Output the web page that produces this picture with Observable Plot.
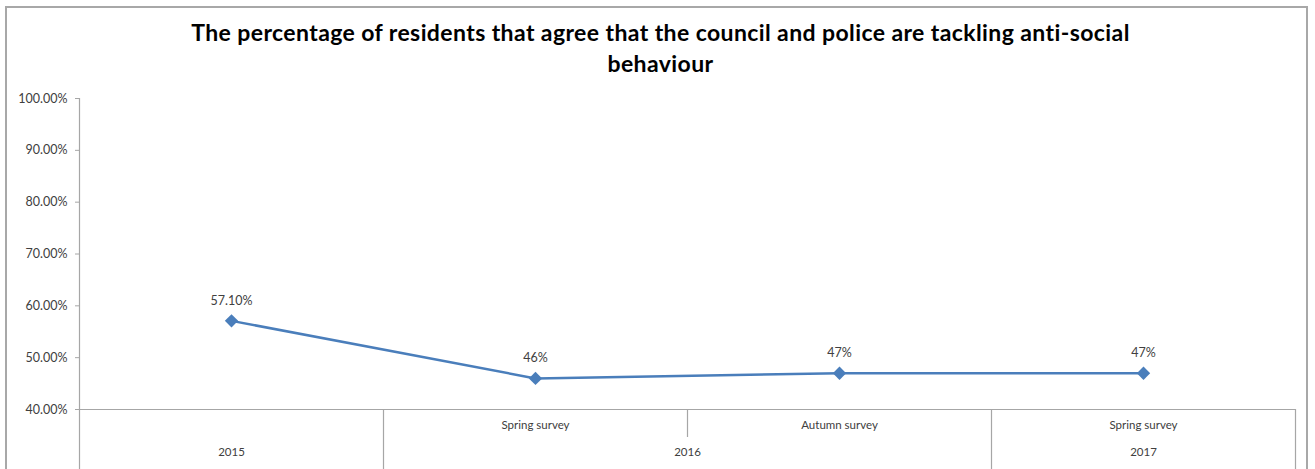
<!DOCTYPE html>
<html>
<head>
<meta charset="utf-8">
<script src="https://cdn.jsdelivr.net/npm/d3@7"></script>
<script src="https://cdn.jsdelivr.net/npm/@observablehq/plot@0.6"></script>
<style>
  html, body { margin: 0; padding: 0; background: #fff; }
  #wrap { position: relative; width: 1315px; height: 469px; overflow: hidden; background: #fff; }
  #border { position: absolute; left: 5px; top: 6px; width: 1303px; height: 480px; border: 2px solid #a8a8a8; box-sizing: border-box; }
  #title { position: absolute; left: 3px; top: 17px; width: 1315px; text-align: center;
           font-family: Lato, "Open Sans", sans-serif; font-weight: bold; font-size: 23px; letter-spacing: 0.4px; line-height: 31px; color: #000; }
  #chart { position: absolute; left: 0; top: 0; }
</style>
</head>
<body>
<div id="wrap">
  <div id="border"></div>
  <div id="chart"></div>
  <div id="title">The percentage of residents that agree that the council and police are tackling anti-social<br>behaviour</div>
</div>
<script>
// Data
const categories = ["", "Spring survey", "Autumn survey", "Spring survey"];
const years = ["2015", "2016", "2016", "2017"];
const values = [0.571, 0.46, 0.47, 0.47];
const valueLabels = ["57.10%", "46%", "47%", "47%"];
const yTicks = [0.4, 0.5, 0.6, 0.7, 0.8, 0.9, 1.0];

const data = categories.map((c, i) => ({i, category: c, year: years[i], value: values[i], label: valueLabels[i]}));

// year groups: centre index of each year
const yearGroups = Array.from(d3.group(data, d => d.year), ([year, rows]) => ({year, x: d3.mean(rows, r => r.i)}));

// dividers between categories: long if year changes (or at the ends), short otherwise
const dividers = [];
for (let k = 0; k <= categories.length; k++) {
  const long = k === 0 || k === categories.length || years[k] !== years[k - 1];
  dividers.push({x: k - 0.5, long});
}

const lineColor = "#4a7ebb";
const axisColor = "#a6a6a6";
const textColor = "#404040";
const font = "Lato, 'Open Sans', sans-serif";
const plotH = 469 - 98 - 60;

const chart = Plot.plot({
  width: 1315,
  height: 469,
  marginTop: 98,
  marginBottom: 60,
  marginLeft: 79,
  marginRight: 20,
  style: {fontFamily: font, background: "transparent", overflow: "visible"},
  x: {type: "linear", domain: [-0.5, categories.length - 0.5], axis: null},
  y: {domain: [0.4, 1.0], axis: null},
  marks: [
    Plot.axisY({ticks: yTicks, tickFormat: d3.format(".2%"), tickSize: 4, tickPadding: 8,
                stroke: axisColor, fill: textColor, fontSize: 12.5, label: null}),
    Plot.ruleY([0.4], {stroke: axisColor, strokeWidth: 1.2}),
    Plot.ruleX(dividers.filter(d => d.x === -0.5), {x: "x", stroke: axisColor, strokeWidth: 1.2, insetBottom: -60}),
    Plot.ruleX(dividers.filter(d => d.x !== -0.5 && d.long), {x: "x", stroke: axisColor, strokeWidth: 1.2, insetTop: plotH, insetBottom: -60}),
    Plot.ruleX(dividers.filter(d => !d.long), {x: "x", stroke: axisColor, strokeWidth: 1.2, insetTop: plotH, insetBottom: -28}),
    Plot.line(data, {x: "i", y: "value", stroke: lineColor, strokeWidth: 2.5}),
    Plot.dot(data, {x: "i", y: "value", symbol: "diamond2", r: 6, fill: lineColor, stroke: null}),
    Plot.text(data, {x: "i", y: "value", text: "label", dy: -20, fontSize: 12.5, fill: textColor}),
    Plot.text(data, {x: "i", text: "category", frameAnchor: "bottom", dy: 19, fontSize: 11.5, fill: textColor}),
    Plot.text(yearGroups, {x: "x", text: "year", frameAnchor: "bottom", dy: 46, fontSize: 11.5, fill: textColor})
  ]
});
document.getElementById("chart").appendChild(chart);
</script>
</body>
</html>
